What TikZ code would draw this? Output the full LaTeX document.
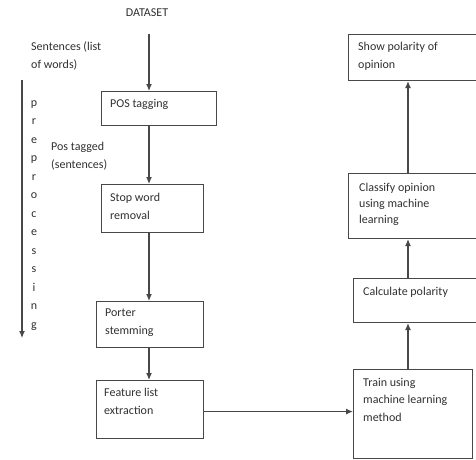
\documentclass[tikz,border=0pt]{standalone}
\usepackage{fontspec}
\setmainfont{Carlito}
\usetikzlibrary{arrows.meta}
\definecolor{ln}{HTML}{484848}
\definecolor{tx}{HTML}{303030}
\begin{document}
\begin{tikzpicture}[x=1pt,y=-1pt,
 box/.style={draw=ln, line width=1.1pt, inner sep=0pt, anchor=north west},
 txt/.style={text=tx, font=\fontsize{12}{17.5}\selectfont, align=left, anchor=north west, inner sep=0pt},
 arr/.style={draw=ln, line width=1.1pt, -{Latex[length=7pt,width=6pt]}}]
\useasboundingbox (0,0) rectangle (476,459);
\clip (0,0) rectangle (476,459);
% boxes
\node[box, minimum width=115pt, minimum height=34pt] (pos) at (101,91) {};
\node[box, minimum width=102pt, minimum height=48pt] (stop) at (101,184) {};
\node[box, minimum width=107pt, minimum height=46pt] (porter) at (96,301) {};
\node[box, minimum width=107pt, minimum height=58pt] (feat) at (96,380) {};
\node[box, minimum width=119pt, minimum height=89pt] (train) at (353,369) {};
\node[box, minimum width=135pt, minimum height=44pt] (calc) at (353,278) {};
\node[box, minimum width=140pt, minimum height=65pt] (class) at (348,173) {};
\node[box, minimum width=140pt, minimum height=46pt] (show) at (348,34) {};
% texts
\node[txt, anchor=center] (ds) at (147,13) {DATASET};
\node[txt] (sent) at (31,42) {Sentences (list\\of words)};
\node[txt] (posT) at (110,99) {POS tagging};
\node[txt] (tagged) at (51,142) {Pos tagged\\(sentences)};
\node[txt] (stopT) at (110,193) {Stop word\\removal};
\node[txt] (porterT) at (105,309) {Porter\\stemming};
\node[txt] (featT) at (104,388) {Feature list\\extraction};
\node[txt] (trainT) at (363,378) {Train using\\machine learning\\method};
\node[txt] (calcT) at (363,287) {Calculate polarity};
\node[txt, font=\fontsize{12}{16}\selectfont] (classT) at (359,183) {Classify opinion\\using machine\\learning};
\node[txt] (showT) at (358,42) {Show polarity of\\opinion};
\node[txt, anchor=north, align=center, font=\fontsize{12}{18.5}\selectfont] (pp) at (34,100)
  {p\\r\\e\\p\\r\\o\\c\\e\\s\\s\\i\\n\\g};
% coordinates
\coordinate (colL) at (149,0);
\coordinate (colR) at (408,0);
\coordinate (ppTop) at (22,80);
\coordinate (ppBot) at (22,338);
% arrows
\draw[arr] ([yshift=-17pt]ds.south -| colL) -- (pos.north -| colL);
\draw[arr] (pos.south -| colL) -- (stop.north -| colL);
\draw[arr] (stop.south -| colL) -- (porter.north -| colL);
\draw[arr] (porter.south -| colL) -- (feat.north -| colL);
\draw[arr] ([yshift=-2pt]feat.east) -- ([yshift=-2pt]feat.east -| train.west);
\draw[arr] (train.north -| colR) -- (calc.south -| colR);
\draw[arr] (calc.north -| colR) -- (class.south -| colR);
\draw[arr] (class.north -| colR) -- (show.south -| colR);
\draw[arr] (ppTop) -- (ppBot);
\end{tikzpicture}
\end{document}
